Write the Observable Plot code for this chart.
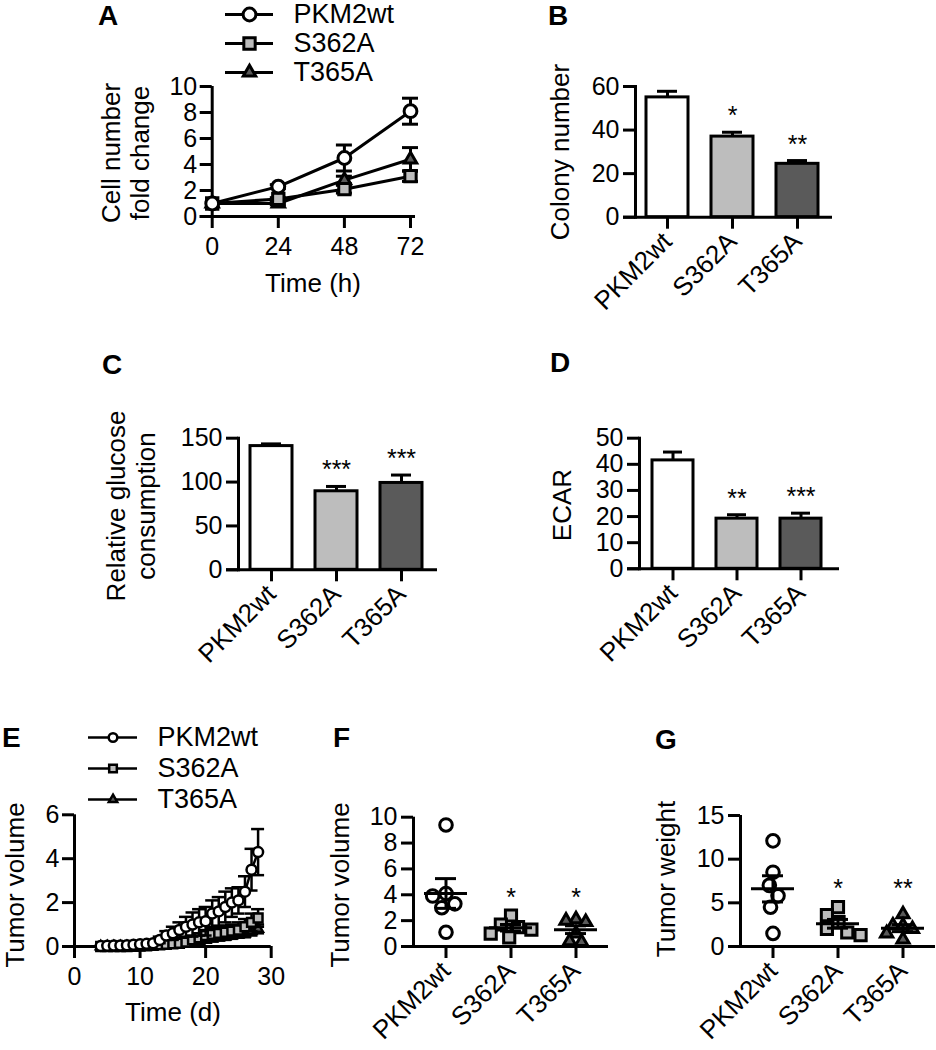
<!DOCTYPE html>
<html><head><meta charset="utf-8">
<script src="https://cdn.jsdelivr.net/npm/d3@7"></script>
<script src="https://cdn.jsdelivr.net/npm/@observablehq/plot@0.6"></script>
<style>
body{margin:0;background:#fff;}
#fig{position:relative;width:936px;height:1050px;overflow:hidden;font-family:"Liberation Sans",Arial,sans-serif;color:#000;background:#fff;}
.p{position:absolute;}
.p svg{overflow:visible;display:block;max-width:none;}
.lab{position:absolute;font-weight:bold;font-size:28px;line-height:28px;white-space:nowrap;}
.tt{position:absolute;font-size:26px;line-height:29px;white-space:nowrap;text-align:center;}
</style></head><body><div id="fig"></div>
<script>
// ---------- data ----------
const groups = ["PKM2wt", "S362A", "T365A"];
// A: cell number fold change
const timeH = [0, 24, 48, 72];
const cellPKM2wt = [1.0, 2.3, 4.5, 8.1];
const cellPKM2wtSem = [0, 0.15, 1.0, 1.0];
const cellS362A = [1.0, 1.35, 2.1, 3.1];
const cellS362ASem = [0, 0.1, 0.3, 0.4];
const cellT365A = [1.0, 1.0, 2.8, 4.4];
const cellT365ASem = [0, 0.1, 0.3, 0.9];
const cellTicksX = [0, 24, 48, 72];
const cellTicksY = [0, 2, 4, 6, 8, 10];
// B: colony number
const colonyMean = [55, 37, 24.5];
const colonySem = [2.8, 2.0, 1.5];
const colonyStars = ["", "*", "**"];
const colonyTicks = [0, 20, 40, 60];
// C: relative glucose consumption
const glucoseMean = [141, 89.5, 99];
const glucoseSem = [2.5, 5.5, 9];
const glucoseStars = ["", "***", "***"];
const glucoseTicks = [0, 50, 100, 150];
// D: ECAR
const ecarMean = [41.5, 19.2, 19.2];
const ecarSem = [3.2, 1.5, 2.1];
const ecarStars = ["", "**", "***"];
const ecarTicks = [0, 10, 20, 30, 40, 50];
// E: tumor volume over time
const timeD = [4,5,6,7,8,9,10,11,12,13,14,15,16,17,18,19,20,21,22,23,24,25,26,27,28];
const tvPKM2wt = [0.02,0.03,0.04,0.05,0.06,0.08,0.1,0.12,0.15,0.3,0.5,0.6,0.75,0.9,1.0,1.1,1.15,1.5,1.6,1.8,2.0,2.1,2.5,3.5,4.3];
const tvPKM2wtSem = [0.01,0.01,0.02,0.02,0.03,0.04,0.05,0.05,0.06,0.15,0.2,0.3,0.35,0.45,0.55,0.6,0.65,0.6,0.65,0.7,0.65,0.6,0.7,0.95,1.05];
const tvS362A = [0,0,0,0,0,0.01,0.02,0.03,0.05,0.08,0.1,0.12,0.15,0.2,0.3,0.4,0.5,0.55,0.6,0.65,0.7,0.75,0.9,1.1,1.3];
const tvS362ASem = [0,0,0,0,0,0.01,0.01,0.02,0.02,0.04,0.05,0.06,0.08,0.1,0.15,0.2,0.25,0.25,0.3,0.3,0.3,0.35,0.35,0.4,0.4];
const tvT365A = [0,0,0,0,0,0,0.01,0.02,0.03,0.05,0.07,0.1,0.12,0.15,0.2,0.25,0.3,0.35,0.4,0.45,0.5,0.55,0.6,0.7,0.8];
const tvT365ASem = [0,0,0,0,0,0,0.01,0.01,0.02,0.02,0.03,0.04,0.05,0.06,0.08,0.1,0.1,0.12,0.12,0.15,0.15,0.15,0.18,0.2,0.2];
const tvTicksX = [0, 10, 20, 30];
const tvTicksY = [0, 2, 4, 6];
// F: tumor volume (end point)
const fvPKM2wt = [9.4, 4.1, 3.9, 3.3, 3.0, 1.1];
const fvS362A = [2.4, 1.7, 1.5, 1.3, 1.0, 0.7];
const fvT365A = [2.1, 2.0, 1.9, 1.0, 0.4, 0.35];
const fvMean = [4.1, 1.45, 1.3];
const fvSem = [1.15, 0.25, 0.3];
const fvStars = ["", "*", "*"];
const fvStarLevel = 4.2;
const fvTicks = [0, 2, 4, 6, 8, 10];
// G: tumor weight
const twPKM2wt = [12.1, 8.5, 7.0, 5.8, 4.5, 1.5];
const twS362A = [4.5, 3.6, 2.8, 2.0, 1.6, 1.3];
const twT365A = [3.7, 2.4, 2.4, 2.0, 1.5, 0.8];
const twMean = [6.6, 2.6, 2.1];
const twSem = [1.5, 0.5, 0.4];
const twStars = ["", "*", "**"];
const twStarLevel = 7.3;
const twTicks = [0, 5, 10, 15];

// ---------- styles ----------
const fills = ["#ffffff", "#bdbdbd", "#5a5a5a"];
const symbols = ["circle", "square", "triangle"];
const symbolScale = [1, 1, 0.72];
const FONT = '"Liberation Sans", Arial, sans-serif';
const baseStyle = {fontSize: "25px", fontFamily: FONT, color: "#000", background: "transparent", overflow: "visible", maxWidth: "none"};
const SW = 3;
const fmt = d => String(d);

const fig = document.getElementById("fig");
function place(node, left, top) {
  const d = document.createElement("div");
  d.className = "p"; d.style.left = left + "px"; d.style.top = top + "px";
  d.appendChild(node); fig.appendChild(d);
}
function letter(t, x, capTop) {
  const d = document.createElement("div");
  d.className = "lab"; d.textContent = t;
  d.style.left = x + "px"; d.style.top = (capTop - 3.7) + "px";
  fig.appendChild(d);
}
function title(lines, cx, cy, rot, lh) {
  const d = document.createElement("div");
  d.className = "tt";
  d.innerHTML = lines.join("<br>");
  d.style.left = cx + "px"; d.style.top = cy + "px";
  if (lh) d.style.lineHeight = lh + "px";
  d.style.transform = "translate(-50%,-50%)" + (rot ? " rotate(-90deg)" : "");
  fig.appendChild(d);
}

// ---------- line chart helpers ----------
function seriesMarks(xs, ms, ss, i, r, sw, cap) {
  const d = xs.map((x, k) => ({x, m: ms[k], s: ss[k]}));
  const e = d.filter(v => v.s >= 0.05);
  return [
    Plot.line(d, {x: "x", y: "m", stroke: "black", strokeWidth: sw}),
    Plot.ruleX(e, {x: "x", y1: v => v.m - v.s, y2: v => v.m + v.s, strokeWidth: sw}),
    Plot.ruleY(e, {x1: "x", x2: "x", y: v => v.m + v.s, insetLeft: -cap, insetRight: -cap, strokeWidth: sw}),
    Plot.ruleY(e, {x1: "x", x2: "x", y: v => v.m - v.s, insetLeft: -cap, insetRight: -cap, strokeWidth: sw}),
    Plot.dot(d, {x: "x", y: "m", symbol: symbols[i], r: r * symbolScale[i], fill: fills[i], stroke: "black", strokeWidth: sw})
  ];
}
function legendPlot(r, sw, lineW, rowGap, gap, fs) {
  return Plot.plot({
    width: lineW + 220, height: 2 * rowGap + 20,
    marginLeft: 0, marginRight: 220, marginTop: 10, marginBottom: 10,
    style: baseStyle,
    y: {type: "point", domain: groups, padding: 0, axis: null},
    marks: [
      Plot.ruleY(groups, {y: d => d, strokeWidth: sw}),
      ...groups.map((g, i) => Plot.dot([g], {y: d => d, symbol: symbols[i], r: r * symbolScale[i], fill: fills[i], stroke: "black", strokeWidth: sw})),
      Plot.text(groups, {y: d => d, text: d => d, frameAnchor: "right", textAnchor: "start", dx: gap, fontSize: fs})
    ]
  });
}

// ---------- bar chart helper ----------
function barPanel({mean, sem, stars, ticks, domain, w, h, ml, mr, mt, mb, pi, po}) {
  const data = groups.map((g, i) => ({g, v: mean[i], s: sem[i], star: stars[i]}));
  return Plot.plot({
    width: w, height: h, marginLeft: ml, marginRight: mr, marginTop: mt, marginBottom: mb,
    style: baseStyle,
    x: {domain: groups, paddingInner: pi, paddingOuter: po, align: 0.5},
    y: {domain},
    color: {domain: groups, range: fills},
    marks: [
      Plot.ruleX(data, {x: "g", y1: "v", y2: d => d.v + d.s, strokeWidth: SW}),
      Plot.tickY(data, {x: "g", y: d => d.v + d.s, insetLeft: 11, insetRight: 11, strokeWidth: SW}),
      Plot.barY(data, {x: "g", y: "v", fill: "g", stroke: "black", strokeWidth: SW}),
      Plot.ruleY([0], {strokeWidth: SW, insetLeft: -12, insetRight: -4}),
      Plot.frame({anchor: "left", strokeWidth: SW}),
      Plot.axisY({ticks, tickFormat: fmt, tickSize: 12, tickPadding: 4, strokeWidth: SW, label: null}),
      Plot.axisX({tickSize: 12, tickPadding: 8, tickRotate: -45, strokeWidth: SW, label: null, fontSize: 26}),
      Plot.text(data.filter(d => d.star), {x: "g", y: d => d.v + d.s, text: "star", dy: -16, fontSize: 25})
    ]
  });
}

// ---------- scatter helper ----------
function scatterPanel({sets, mean, sem, stars, starLevel, ticks, domain, w, h, ml, mr, mt, mb}) {
  const stats = groups.map((g, i) => ({g, m: mean[i], s: sem[i], star: stars[i]}));
  const fw = (w - ml - mr) / 3;
  const dots = groups.map((g, i) => Plot.dot(sets[i].map(v => ({g, v})),
    Plot.dodgeX("middle", {fx: "g", y: "v", r: 6.3 * symbolScale[i], padding: 0.5, symbol: symbols[i], fill: fills[i], stroke: "black", strokeWidth: SW})));
  return Plot.plot({
    width: w, height: h, marginLeft: ml, marginRight: mr, marginTop: mt, marginBottom: mb,
    style: baseStyle,
    fx: {domain: groups, padding: 0},
    y: {domain},
    marks: [
      Plot.ruleY([0], {strokeWidth: SW, insetLeft: -12}),
      Plot.ruleX([groups[0]], {x: null, fx: d => d, dx: -fw / 2, strokeWidth: SW}),
      Plot.axisY({ticks, tickFormat: fmt, tickSize: 12, tickPadding: 4, strokeWidth: SW, label: null}),
      Plot.axisFx({anchor: "bottom", tickSize: 12, tickPadding: 8, tickRotate: -45, strokeWidth: SW, label: null, fontSize: 26}),
      ...dots,
      Plot.ruleX(stats, {x: null, fx: "g", y1: d => d.m - d.s, y2: d => d.m + d.s, strokeWidth: SW}),
      Plot.tickY(stats, {fx: "g", y: "m", insetLeft: 11, insetRight: 11, strokeWidth: SW}),
      Plot.tickY(stats, {fx: "g", y: d => d.m + d.s, insetLeft: 22, insetRight: 22, strokeWidth: SW}),
      Plot.tickY(stats, {fx: "g", y: d => d.m - d.s, insetLeft: 22, insetRight: 22, strokeWidth: SW}),
      Plot.text(stats.filter(d => d.star), {fx: "g", y: () => starLevel, text: "star", dy: 6, fontSize: 25})
    ]
  });
}

// ---------- Panel A ----------
place(Plot.plot({
  width: 440, height: 310, marginLeft: 211.7, marginRight: 30, marginTop: 86, marginBottom: 94,
  style: baseStyle,
  x: {domain: [0, 72]},
  y: {domain: [0, 10]},
  marks: [
    Plot.ruleY([0], {strokeWidth: SW, insetLeft: -12, insetRight: -5}),
    Plot.ruleX([0], {strokeWidth: SW}),
    Plot.axisX({ticks: cellTicksX, tickFormat: fmt, tickSize: 12, tickPadding: 9, strokeWidth: SW, label: null}),
    Plot.axisY({ticks: cellTicksY, tickFormat: fmt, tickSize: 12, tickPadding: 3, strokeWidth: SW, label: null}),
    ...seriesMarks(timeH, cellT365A, cellT365ASem, 2, 6.4, SW, 8),
    ...seriesMarks(timeH, cellS362A, cellS362ASem, 1, 6.4, SW, 8),
    ...seriesMarks(timeH, cellPKM2wt, cellPKM2wtSem, 0, 6.4, SW, 8)
  ]
}), 0, 0);
place(legendPlot(6.4, SW, 48, 29.5, 20, 27), 225, 3);
letter("A", 98, 5.5);
title(["Cell number", "fold change"], 126, 153, true);
title(["Time (h)"], 313, 283, false);

// ---------- Panel B ----------
place(barPanel({mean: colonyMean, sem: colonySem, stars: colonyStars, ticks: colonyTicks, domain: [0, 60],
  w: 436, h: 300, ml: 135, mr: 108, mt: 86, mb: 83.3, pi: 0.359, po: 0.153}), 500, 0);
letter("B", 548, 5.5);
title(["Colony number"], 560, 152, true);

// ---------- Panel C ----------
place(barPanel({mean: glucoseMean, sem: glucoseSem, stars: glucoseStars, ticks: glucoseTicks, domain: [0, 150],
  w: 470, h: 360, ml: 238, mr: 37, mt: 137.7, mb: 90.7, pi: 0.359, po: 0.168}), 0, 300);
letter("C", 102, 355);
title(["Relative glucose", "consumption"], 131, 506, true, 30);

// ---------- Panel D ----------
place(barPanel({mean: ecarMean, sem: ecarSem, stars: ecarStars, ticks: ecarTicks, domain: [0, 50],
  w: 436, h: 360, ml: 139, mr: 101, mt: 137.7, mb: 91.7, pi: 0.354, po: 0.185}), 500, 300);
letter("D", 550, 353);
title(["ECAR"], 562, 505, true);

// ---------- Panel E ----------
place(Plot.plot({
  width: 300, height: 410, marginLeft: 74, marginRight: 29.3, marginTop: 174.3, marginBottom: 104,
  style: baseStyle,
  x: {domain: [0, 30]},
  y: {domain: [0, 6]},
  marks: [
    Plot.ruleY([0], {strokeWidth: SW, insetLeft: -11}),
    Plot.ruleX([0], {strokeWidth: SW}),
    Plot.axisX({ticks: tvTicksX, tickFormat: fmt, tickSize: 12, tickPadding: 9, strokeWidth: SW, label: null}),
    Plot.axisY({ticks: tvTicksY, tickFormat: fmt, tickSize: 12, tickPadding: 3, strokeWidth: SW, label: null}),
    ...seriesMarks(timeD, tvT365A, tvT365ASem, 2, 5, 2.5, 6.5),
    ...seriesMarks(timeD, tvS362A, tvS362ASem, 1, 5, 2.5, 6.5),
    ...seriesMarks(timeD, tvPKM2wt, tvPKM2wtSem, 0, 5, 2.5, 6.5)
  ]
}), 0, 640);
place(legendPlot(4.3, 2.5, 49, 31.3, 20, 27), 88, 640 + 96.7 - 10);
letter("E", 2, 728);
title(["Tumor volume"], 15, 885, true, 29);
title(["Time (d)"], 173, 1012, false);

// ---------- Panel F ----------
place(scatterPanel({sets: [fvPKM2wt, fvS362A, fvT365A], mean: fvMean, sem: fvSem, stars: fvStars, starLevel: fvStarLevel,
  ticks: fvTicks, domain: [0, 10], w: 320, h: 410, ml: 113.2, mr: 11.8, mt: 176.7, mb: 104}), 300, 640);
letter("F", 333, 728);
title(["Tumor volume"], 340, 885, true);

// ---------- Panel G ----------
place(scatterPanel({sets: [twPKM2wt, twS362A, twT365A], mean: twMean, sem: twSem, stars: twStars, starLevel: twStarLevel,
  ticks: twTicks, domain: [0, 15], w: 316, h: 410, ml: 120.2, mr: 0.8, mt: 175, mb: 104}), 620, 640);
letter("G", 655, 730);
title(["Tumor weight"], 666, 879, true);
</script></body></html>
